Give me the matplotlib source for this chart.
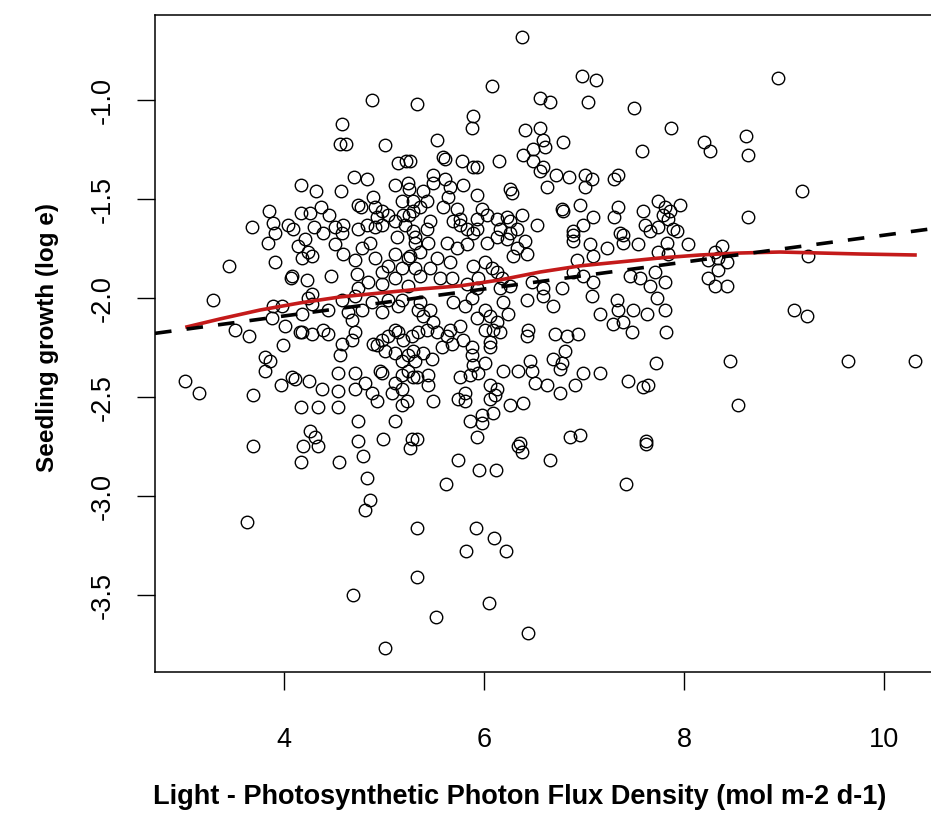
import matplotlib
matplotlib.use('Agg')
import matplotlib.pyplot as plt

plt.rcParams['font.family'] = ['Liberation Sans', 'DejaVu Sans']
plt.rcParams['axes.unicode_minus'] = False

# light (PPFD, mol m-2 d-1) and seedling growth (log e)
light = [
    4.88, 5.33, 4.58, 4.56, 4.62, 5.01, 5.14, 5.22, 4.17, 4.32,
    4.57, 4.70, 4.83, 5.11, 5.24, 5.25, 3.85, 4.17, 4.26, 4.37,
    4.45, 4.74, 4.77, 4.89, 4.91, 4.98, 4.93, 5.04, 5.18, 5.19,
    5.25, 5.29, 3.68, 3.89, 3.91, 4.04, 4.09, 4.30, 4.39, 4.51,
    4.59, 4.58, 4.74, 4.83, 4.91, 4.98, 5.11, 5.21, 5.29, 6.38,
    6.98, 7.12, 6.08, 6.56, 6.66, 7.04, 7.50, 5.89, 5.88, 7.87,
    6.41, 6.56, 5.53, 6.59, 6.61, 6.79, 7.58, 6.39, 6.49, 5.59,
    5.61, 5.78, 5.89, 5.93, 6.15, 6.49, 6.56, 6.59, 6.72, 6.85,
    6.63, 7.01, 7.08, 7.01, 7.30, 7.34, 5.26, 5.49, 5.49, 5.61,
    5.66, 5.79, 5.93, 6.26, 6.28, 5.39, 5.43, 5.29, 5.36, 5.64,
    5.59, 5.73, 5.76, 5.93, 5.98, 6.03, 5.46, 5.43, 5.69, 5.76,
    5.83, 5.93, 6.13, 6.23, 6.26, 6.16, 6.26, 6.33, 6.38, 6.53,
    6.78, 6.79, 6.96, 7.09, 6.99, 6.89, 7.30, 7.34, 7.36, 7.59,
    7.61, 7.74, 7.81, 7.79, 7.84, 7.74, 7.89, 8.94, 8.20, 8.26,
    8.62, 8.64, 9.18, 8.64, 7.96, 7.86, 7.93, 3.84, 3.45, 3.91,
    4.08, 4.07, 4.23, 4.14, 4.21, 4.24, 4.18, 4.28, 4.28, 4.47,
    4.51, 4.59, 4.71, 4.78, 4.86, 4.91, 4.98, 5.04, 5.11, 5.18,
    5.24, 5.31, 5.13, 5.31, 5.31, 4.73, 4.84, 4.74, 4.98, 5.11,
    5.24, 3.29, 3.89, 3.98, 4.24, 4.28, 4.44, 4.58, 4.64, 4.71,
    4.78, 4.88, 4.98, 5.04, 5.14, 5.18, 5.34, 3.88, 4.18, 3.51,
    3.65, 4.01, 4.16, 4.18, 4.28, 4.39, 4.44, 4.68, 4.58, 4.68,
    4.71, 4.89, 4.93, 4.98, 5.04, 5.11, 5.14, 5.19, 5.28, 5.34,
    3.99, 3.81, 3.86, 3.81, 4.56, 5.01, 5.11, 5.18, 5.24, 5.31,
    4.54, 4.71, 4.81, 4.71, 4.96, 4.98, 5.11, 5.18, 5.24, 5.29,
    3.01, 3.15, 3.69, 3.97, 4.08, 4.11, 4.25, 4.38, 4.54, 4.17,
    4.34, 4.54, 4.88, 4.93, 5.08, 5.18, 5.23, 5.18, 4.74, 5.11,
    4.26, 4.31, 4.34, 4.19, 3.69, 4.74, 4.99, 5.28, 5.26, 4.17,
    4.55, 4.79, 4.83, 4.86, 4.81, 3.63, 5.33, 5.33, 4.69, 5.01,
    5.74, 5.95, 6.12, 5.62, 6.38, 6.34, 6.66, 7.42, 7.62, 5.92,
    6.10, 5.82, 6.22, 6.05, 5.52, 6.44, 5.44, 5.36, 5.26, 5.63,
    5.73, 5.83, 5.89, 6.03, 6.13, 6.23, 6.33, 6.41, 6.43, 6.29,
    5.53, 5.66, 5.46, 5.36, 5.56, 5.89, 6.01, 6.08, 6.13, 5.94,
    5.68, 5.83, 5.93, 6.18, 6.26, 6.16, 6.89, 6.89, 7.06, 7.23,
    7.39, 7.39, 7.54, 7.66, 7.74, 7.83, 6.93, 7.09, 6.48, 6.59,
    6.59, 6.69, 6.78, 6.43, 6.89, 6.99, 7.09, 7.08, 7.33, 7.34,
    7.49, 7.63, 7.16, 7.46, 7.56, 7.66, 7.71, 7.81, 7.73, 7.81,
    7.29, 7.39, 7.48, 7.82, 5.36, 5.46, 5.39, 5.49, 5.43, 5.53,
    5.63, 5.66, 5.76, 5.81, 5.88, 5.69, 5.93, 6.01, 6.06, 6.13,
    6.09, 6.01, 6.19, 6.24, 6.16, 6.06, 6.43, 6.44, 6.71, 6.83,
    6.94, 6.81, 6.69, 6.78, 6.76, 6.46, 6.48, 5.29, 5.39, 5.48,
    5.58, 5.68, 5.79, 5.88, 5.88, 5.89, 6.01, 6.06, 5.94, 5.86,
    5.76, 5.33, 5.44, 5.44, 6.19, 6.34, 6.51, 6.63, 6.76, 6.91,
    6.99, 7.16, 7.44, 7.59, 7.64, 7.72, 5.49, 5.74, 5.81, 5.81,
    6.06, 6.13, 6.06, 6.11, 6.09, 6.26, 6.39, 5.98, 5.86, 5.98,
    5.93, 5.33, 6.36, 6.86, 6.96, 7.62, 8.04, 7.84, 8.38, 8.31,
    8.24, 8.34, 8.43, 8.34, 8.24, 8.31, 8.43, 9.24, 9.10, 9.23,
    8.46, 9.64, 10.31, 8.54,
]
growth = [
    -1.00, -1.02, -1.12, -1.22, -1.22, -1.23, -1.32, -1.31, -1.43, -1.46,
    -1.46, -1.39, -1.40, -1.43, -1.42, -1.45, -1.56, -1.57, -1.57, -1.54,
    -1.58, -1.53, -1.54, -1.49, -1.54, -1.56, -1.59, -1.58, -1.51, -1.58,
    -1.58, -1.56, -1.64, -1.62, -1.67, -1.63, -1.65, -1.64, -1.67, -1.64,
    -1.63, -1.67, -1.65, -1.63, -1.64, -1.63, -1.61, -1.63, -1.66, -0.68,
    -0.88, -0.90, -0.93, -0.99, -1.01, -1.01, -1.04, -1.08, -1.14, -1.14,
    -1.15, -1.14, -1.20, -1.20, -1.24, -1.21, -1.26, -1.28, -1.25, -1.29,
    -1.30, -1.31, -1.34, -1.34, -1.31, -1.31, -1.36, -1.34, -1.38, -1.39,
    -1.44, -1.38, -1.40, -1.44, -1.40, -1.38, -1.31, -1.38, -1.42, -1.40,
    -1.44, -1.43, -1.48, -1.45, -1.47, -1.46, -1.51, -1.51, -1.54, -1.49,
    -1.54, -1.55, -1.60, -1.60, -1.55, -1.58, -1.61, -1.65, -1.61, -1.63,
    -1.65, -1.65, -1.60, -1.59, -1.61, -1.65, -1.67, -1.65, -1.58, -1.63,
    -1.55, -1.56, -1.53, -1.59, -1.63, -1.66, -1.59, -1.54, -1.67, -1.56,
    -1.63, -1.51, -1.54, -1.58, -1.60, -1.64, -1.65, -0.89, -1.21, -1.26,
    -1.18, -1.28, -1.46, -1.59, -1.53, -1.56, -1.66, -1.72, -1.84, -1.82,
    -1.89, -1.90, -1.91, -1.74, -1.70, -1.77, -1.80, -1.79, -1.98, -1.89,
    -1.73, -1.78, -1.81, -1.75, -1.72, -1.80, -1.87, -1.84, -1.78, -1.85,
    -1.80, -1.85, -1.69, -1.72, -1.69, -1.88, -1.92, -1.95, -1.93, -1.90,
    -1.94, -2.01, -2.04, -2.04, -2.00, -2.03, -2.06, -2.01, -2.07, -1.99,
    -2.06, -2.02, -2.07, -2.01, -2.04, -2.01, -2.06, -2.10, -2.08, -2.16,
    -2.19, -2.14, -2.17, -2.17, -2.18, -2.16, -2.18, -2.11, -2.23, -2.21,
    -2.17, -2.23, -2.24, -2.21, -2.19, -2.16, -2.17, -2.21, -2.19, -2.17,
    -2.24, -2.30, -2.32, -2.37, -2.29, -2.27, -2.28, -2.32, -2.29, -2.32,
    -2.38, -2.38, -2.43, -2.46, -2.37, -2.38, -2.43, -2.39, -2.37, -2.40,
    -2.42, -2.48, -2.49, -2.44, -2.40, -2.41, -2.42, -2.46, -2.47, -2.55,
    -2.55, -2.55, -2.48, -2.52, -2.48, -2.46, -2.52, -2.54, -2.62, -2.62,
    -2.67, -2.70, -2.75, -2.75, -2.75, -2.72, -2.71, -2.71, -2.76, -2.83,
    -2.83, -2.80, -2.91, -3.02, -3.07, -3.13, -3.16, -3.41, -3.50, -3.77,
    -2.82, -2.87, -2.87, -2.94, -2.78, -2.75, -2.82, -2.94, -2.74, -3.16,
    -3.21, -3.28, -3.28, -3.54, -3.61, -3.69, -1.72, -1.77, -1.79, -1.72,
    -1.75, -1.73, -1.67, -1.72, -1.69, -1.70, -1.75, -1.71, -1.78, -1.79,
    -1.80, -1.82, -1.85, -1.89, -1.90, -1.84, -1.82, -1.85, -1.87, -1.90,
    -1.90, -1.93, -1.95, -1.90, -1.94, -1.95, -1.71, -1.68, -1.73, -1.75,
    -1.72, -1.68, -1.73, -1.66, -1.77, -1.72, -1.81, -1.79, -1.92, -1.95,
    -1.99, -2.04, -1.95, -2.01, -1.87, -1.89, -1.92, -1.99, -2.01, -2.06,
    -2.06, -2.08, -2.08, -1.89, -1.90, -1.94, -1.87, -1.92, -2.00, -2.06,
    -2.13, -2.12, -2.17, -2.17, -2.02, -2.06, -2.09, -2.12, -2.16, -2.17,
    -2.19, -2.16, -2.14, -2.04, -2.00, -2.02, -2.10, -2.06, -2.09, -2.12,
    -2.16, -2.16, -2.02, -2.08, -2.17, -2.22, -2.19, -2.16, -2.18, -2.19,
    -2.18, -2.27, -2.31, -2.33, -2.36, -2.32, -2.37, -2.27, -2.28, -2.31,
    -2.25, -2.23, -2.21, -2.25, -2.29, -2.34, -2.33, -2.25, -2.38, -2.39,
    -2.40, -2.40, -2.39, -2.44, -2.37, -2.37, -2.43, -2.44, -2.48, -2.44,
    -2.38, -2.38, -2.42, -2.45, -2.44, -2.33, -2.52, -2.51, -2.52, -2.48,
    -2.44, -2.46, -2.51, -2.49, -2.58, -2.54, -2.53, -2.59, -2.62, -2.63,
    -2.70, -2.71, -2.73, -2.70, -2.69, -2.72, -1.73, -1.78, -1.74, -1.77,
    -1.81, -1.80, -1.82, -1.86, -1.90, -1.94, -1.94, -1.79, -2.06, -2.09,
    -2.32, -2.32, -2.32, -2.54,
]

# smoothed trend (red curve)
smooth_x = [3.03, 3.36, 3.76, 4.16, 4.56, 4.96, 5.36, 5.76, 6.16, 6.56,
            6.96, 7.36, 7.76, 8.16, 8.56, 8.96, 9.36, 9.76, 10.31]
smooth_y = [-2.146, -2.106, -2.061, -2.025, -1.995, -1.975, -1.955, -1.939, -1.909, -1.869,
            -1.838, -1.818, -1.798, -1.783, -1.773, -1.768, -1.773, -1.778, -1.783]

# linear fit (dashed line)
fit_intercept = -2.363
fit_slope = 0.068

xticks = [4, 6, 8, 10]
yticks = [-1.0, -1.5, -2.0, -2.5, -3.0, -3.5]

fig = plt.figure(figsize=(9.31, 8.29), dpi=100)
# the plot box runs past the right edge of the image
ax = fig.add_axes([155 / 931, 156 / 829, 789 / 931, 657 / 829])

ax.plot(light, growth, 'o', linestyle='none', mfc='none', mec='black', ms=9.0, mew=1.0)
ax.plot(smooth_x, smooth_y, color='#c41a1a', lw=2.6)
ax.axline((0, fit_intercept), slope=fit_slope, color='black', lw=2.6, dashes=(4.6, 4.2))

ax.set_xlim(2.71, 10.60)
ax.set_ylim(-3.889, -0.571)
ax.set_xticks(xticks)
ax.set_xticklabels([str(t) for t in xticks])
ax.set_yticks(yticks)
ax.set_yticklabels(['%.1f' % t for t in yticks], rotation=90, va='center')
ax.tick_params(length=13, width=1.0, labelsize=19.5, direction='out')
ax.tick_params(axis='x', pad=26)
ax.tick_params(axis='y', pad=15)
for s in ax.spines.values():
    s.set_linewidth(1.1)

fig.text(520 / 931, 1 - 797 / 829, 'Light - Photosynthetic Photon Flux Density (mol m-2 d-1)',
         ha='center', va='center', fontsize=19.5, fontweight='bold')
fig.text(48 / 931, 1 - 338 / 829, 'Seedling growth (log e)', rotation=90,
         ha='center', va='center', fontsize=17.5, fontweight='bold')

fig.savefig('out.png', dpi=100)
